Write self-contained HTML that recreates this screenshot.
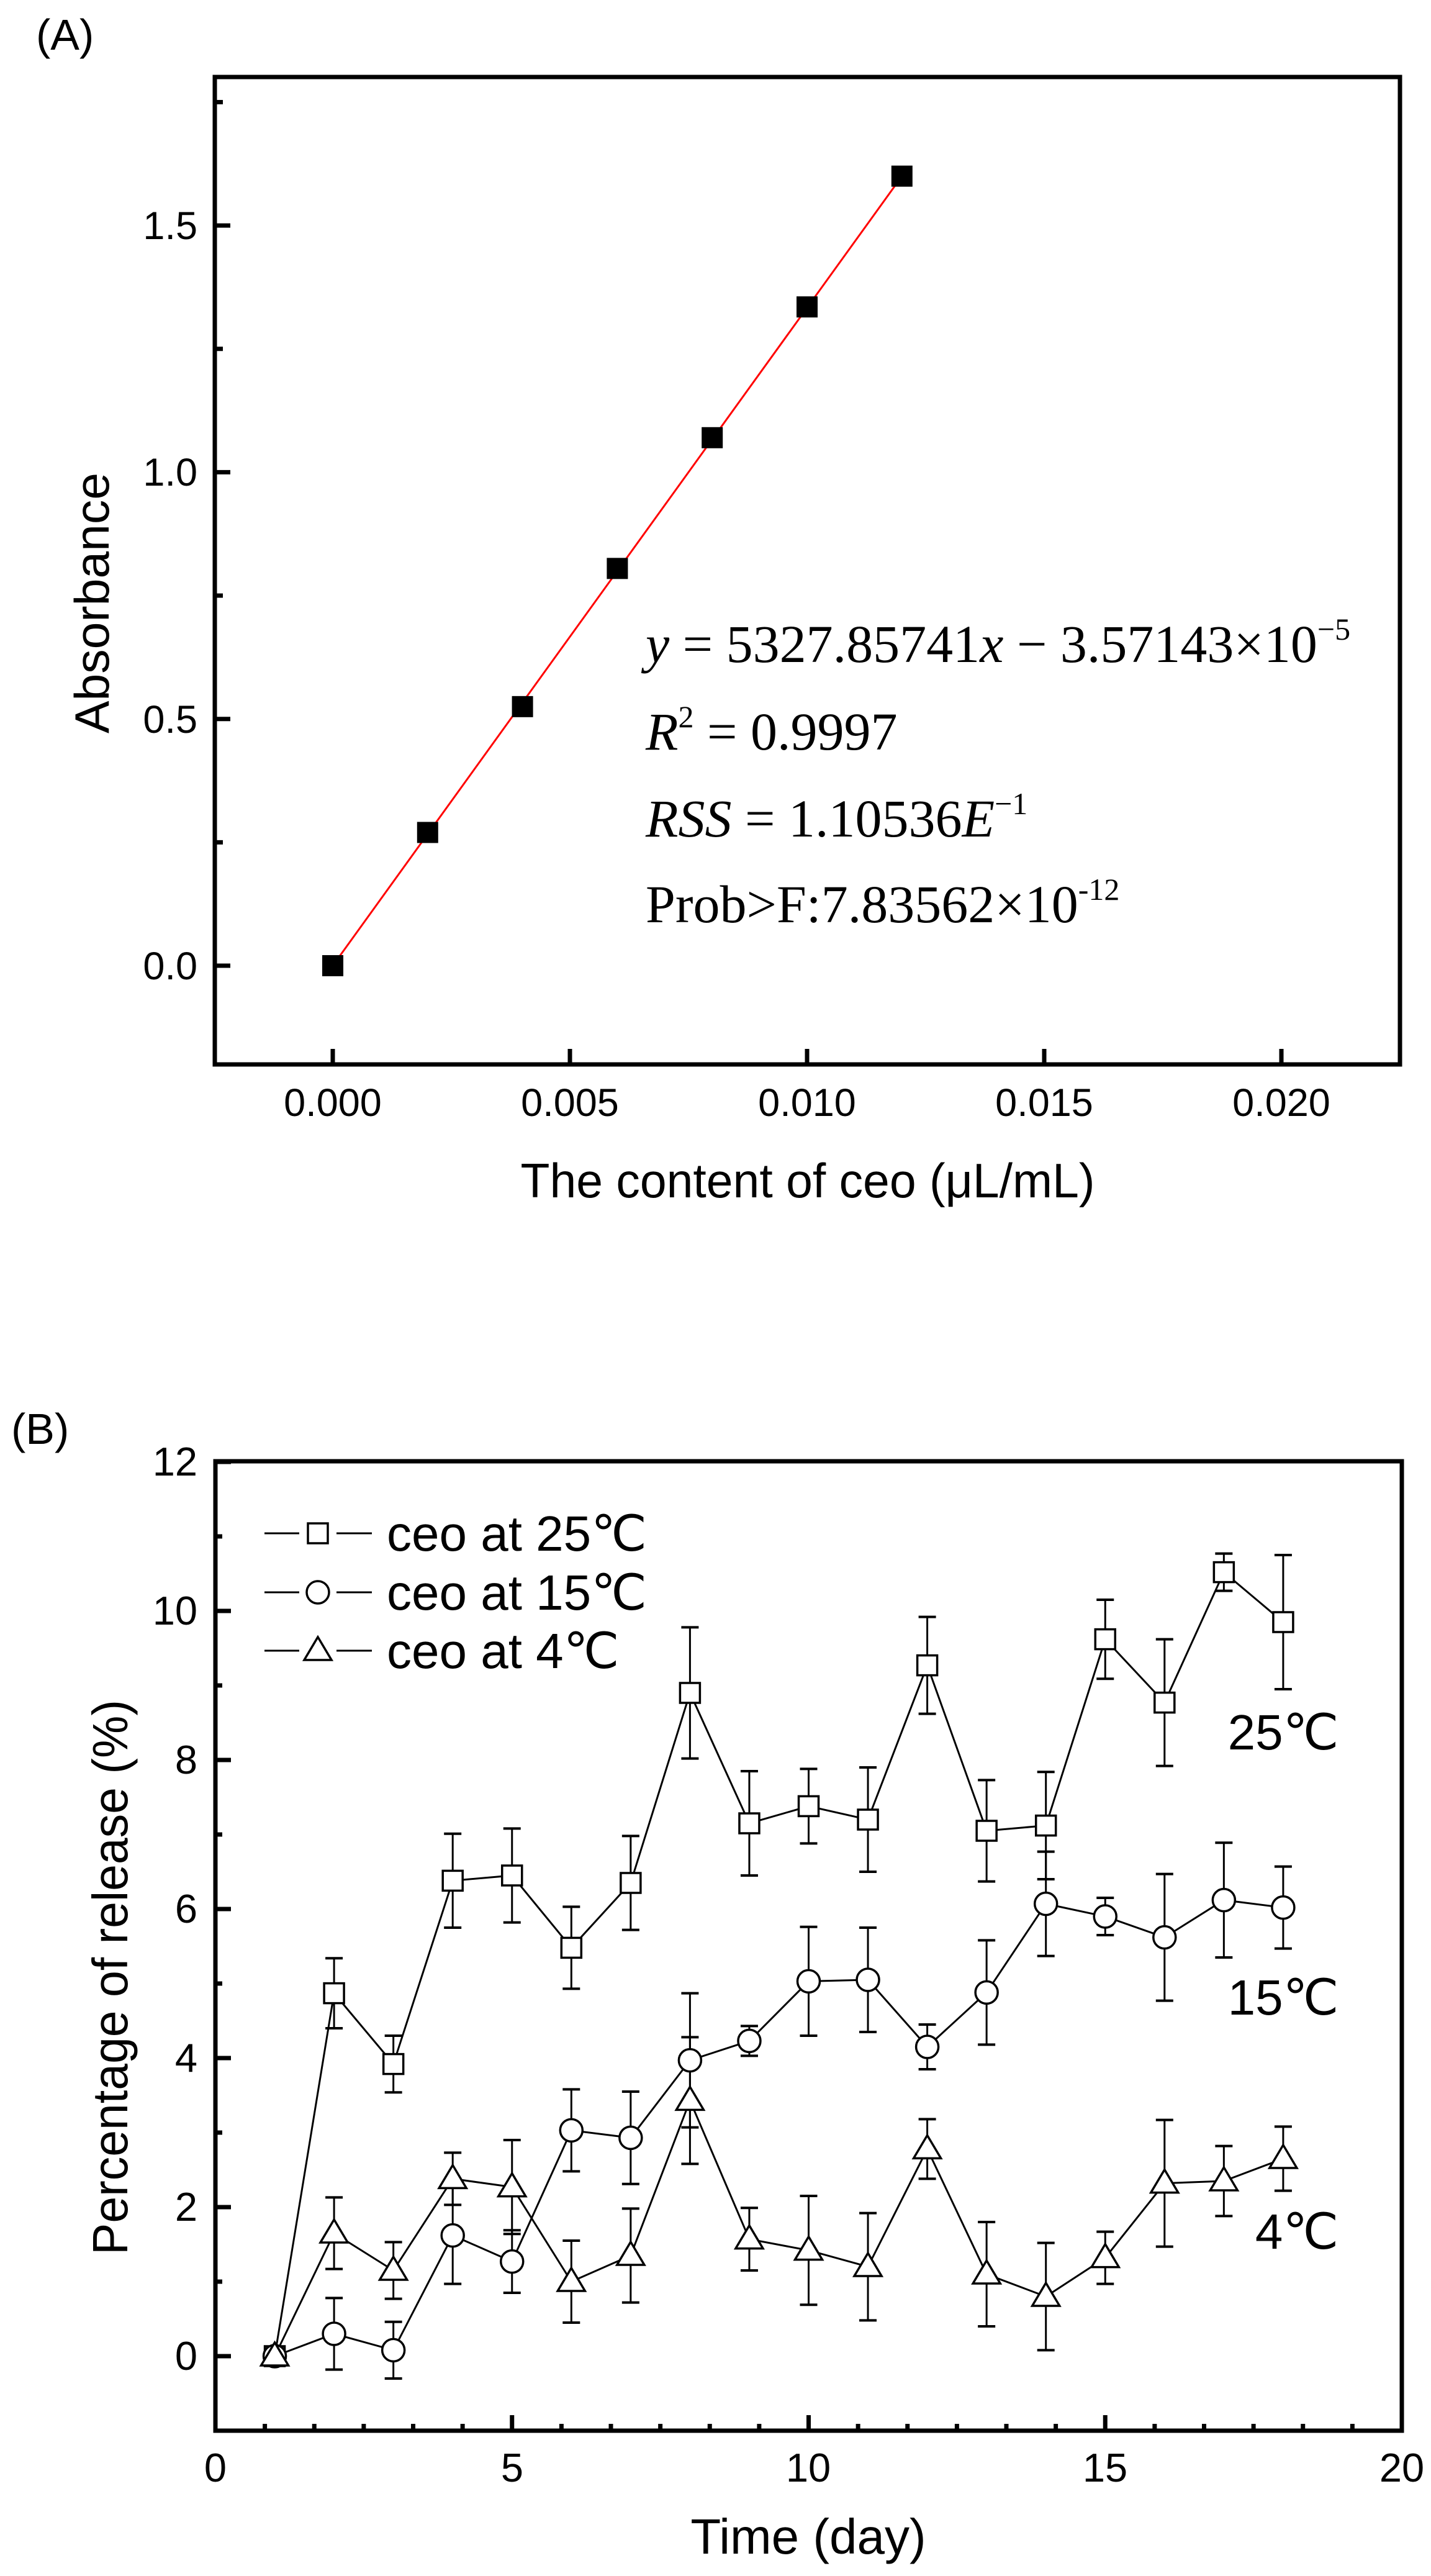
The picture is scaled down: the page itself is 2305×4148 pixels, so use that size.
<!DOCTYPE html>
<html><head><meta charset="utf-8"><style>html,body{margin:0;padding:0;background:#fff}svg{display:block}</style></head>
<body>
<svg id="s" xmlns="http://www.w3.org/2000/svg" width="2305" height="4148" viewBox="0 0 2305 4148" font-family="Liberation Sans, Arial, sans-serif">
<rect width="2305" height="4148" fill="#fff"/>
<g id="g"></g>
<text x="58" y="80" font-size="70">(A)</text>
<g font-size="63" text-anchor="end">
<text x="318" y="385">1.5</text>
<text x="318" y="782">1.0</text>
<text x="318" y="1180">0.5</text>
<text x="318" y="1577">0.0</text>
</g>
<g font-size="63" text-anchor="middle">
<text x="536" y="1797">0.000</text>
<text x="918" y="1797">0.005</text>
<text x="1300" y="1797">0.010</text>
<text x="1682" y="1797">0.015</text>
<text x="2064" y="1797">0.020</text>
</g>
<text x="1301" y="1928" font-size="78" text-anchor="middle" textLength="925" lengthAdjust="spacingAndGlyphs">The content of ceo (μL/mL)</text>
<text transform="translate(175,971) rotate(-90)" font-size="78" text-anchor="middle" textLength="420" lengthAdjust="spacingAndGlyphs">Absorbance</text>
<g font-family="Liberation Serif, Times New Roman, serif" font-size="86">
<text x="1040" y="1066"><tspan font-style="italic">y</tspan> = 5327.85741<tspan font-style="italic">x</tspan> − 3.57143×10<tspan font-size="50" dy="-36">−5</tspan></text>
<text x="1040" y="1207"><tspan font-style="italic">R</tspan><tspan font-size="50" dy="-36">2</tspan><tspan dy="36"> = 0.9997</tspan></text>
<text x="1040" y="1347"><tspan font-style="italic">RSS</tspan> = 1.10536<tspan font-style="italic">E</tspan><tspan font-size="50" dy="-36">−1</tspan></text>
<text x="1040" y="1485">Prob&gt;F:7.83562×10<tspan font-size="50" dy="-36">-12</tspan></text>
</g>
<text x="18" y="2325" font-size="70">(B)</text>
<g font-size="65" text-anchor="end">
<text x="318" y="2376">12</text>
<text x="318" y="2616">10</text>
<text x="318" y="2856">8</text>
<text x="318" y="3096">6</text>
<text x="318" y="3336">4</text>
<text x="318" y="3576">2</text>
<text x="318" y="3816">0</text>
</g>
<g font-size="65" text-anchor="middle">
<text x="347" y="3996">0</text>
<text x="825" y="3996">5</text>
<text x="1302" y="3996">10</text>
<text x="1780" y="3996">15</text>
<text x="2258" y="3996">20</text>
</g>
<text x="1302" y="4112" font-size="80" text-anchor="middle">Time (day)</text>
<text transform="translate(205,3184) rotate(-90)" font-size="80" text-anchor="middle" textLength="894" lengthAdjust="spacingAndGlyphs">Percentage of release (%)</text>
<g font-size="80">
<text x="623" y="2497">ceo at 25℃</text>
<text x="623" y="2592">ceo at 15℃</text>
<text x="623" y="2686">ceo at 4℃</text>
<text x="2067" y="2817" text-anchor="middle">25℃</text>
<text x="2067" y="3244" text-anchor="middle">15℃</text>
<text x="2089" y="3621" text-anchor="middle">4℃</text>
</g>
</svg>
<script>
(function(){
var NS="http://www.w3.org/2000/svg",g=document.getElementById('g');
function el(n,a){var e=document.createElementNS(NS,n);for(var k in a)e.setAttribute(k,a[k]);g.appendChild(e);return e;}
function line(x1,y1,x2,y2,w,c){el('line',{x1:x1,y1:y1,x2:x2,y2:y2,stroke:c||'#000','stroke-width':w});}
var AL=346,AR=2255,AT=124,AB=1714;
function ax(v){return 536+v*76400;} function ay(v){return 1555-v*794.6;}
el('rect',{x:AL,y:AT,width:AR-AL,height:AB-AT,fill:'none',stroke:'#000','stroke-width':7});
[0,0.5,1,1.5].forEach(function(v){line(AL,ay(v),AL+25,ay(v),7);});
[0.25,0.75,1.25,1.75].forEach(function(v){line(AL,ay(v),AL+13,ay(v),7);});
[0,0.005,0.01,0.015,0.02].forEach(function(v){line(ax(v),AB,ax(v),AB-25,7);});
var ys=[0,0.27,0.525,0.805,1.07,1.335,1.6];
line(ax(0),ay(0),ax(0.012),ay(1.6),3,'#f00');
for(var i=0;i<=6;i++){var x=0.002*i,y=ys[i];el('rect',{x:ax(x)-17,y:ay(y)-17,width:34,height:34,fill:'#000'});}
var BL=347,BR=2258,BT=2353,BB=3914;
function bx(v){return 347+v*95.55;} function by(v){return 3794-v*120;}
el('rect',{x:BL,y:BT,width:BR-BL,height:BB-BT,fill:'none',stroke:'#000','stroke-width':7});
for(var v=0;v<=12;v++){line(BL,by(v),BL+(v%2?11:25),by(v),7);}
for(var k=1;k<24;k++){var xv=k*5/6;if(k%6==0)line(bx(xv),BB,bx(xv),BB-25,7);else line(bx(xv),BB,bx(xv),BB-11,7);}
var S25=[[0,0],[4.87,.47],[3.92,.38],[6.38,.63],[6.45,.63],[5.48,.55],[6.35,.63],[8.9,.88],[7.15,.7],[7.38,.5],[7.2,.7],[9.27,.65],[7.05,.68],[7.12,.72],[9.62,.53],[8.77,.85],[10.52,.25],[9.85,.9]];
var S15=[[0,0],[.3,.48],[.08,.38],[1.62,.65],[1.27,.42],[3.03,.55],[2.93,.62],[3.97,.9],[4.23,.2],[5.03,.73],[5.05,.7],[4.15,.3],[4.88,.7],[6.07,.7],[5.9,.25],[5.62,.85],[6.12,.77],[6.02,.55]];
var S4=[[0,0],[1.65,.48],[1.15,.38],[2.38,.35],[2.27,.63],[1,.55],[1.35,.63],[3.43,.85],[1.57,.42],[1.42,.73],[1.2,.72],[2.78,.4],[1.1,.7],[.8,.72],[1.32,.35],[2.32,.85],[2.35,.47],[2.65,.43]];
function mk(t,x,y){
 var a={fill:'#fff',stroke:'#000','stroke-width':3.5};
 if(t==0){a.x=x-16;a.y=y-16;a.width=32;a.height=32;el('rect',a);}
 else if(t==1){a.cx=x;a.cy=y;a.r=18;el('circle',a);}
 else{a.points=(x)+','+(y-22)+' '+(x-22)+','+(y+15)+' '+(x+22)+','+(y+15);el('polygon',a);}
}
[S25,S15,S4].forEach(function(S,t){
 var pts=S.map(function(d,i){return bx(i+1)+','+by(d[0]);}).join(' ');
 el('polyline',{points:pts,fill:'none',stroke:'#000','stroke-width':3});
 S.forEach(function(d,i){if(d[1]>0){var x=bx(i+1),y1=by(d[0]+d[1]),y2=by(d[0]-d[1]);line(x,y1,x,y2,3);line(x-14,y1,x+14,y1,4);line(x-14,y2,x+14,y2,4);}});
});
[S25,S15,S4].forEach(function(S,t){S.forEach(function(d,i){mk(t,bx(i+1),by(d[0]));});});
[2469,2564,2658].forEach(function(y,t){line(426,y,482,y,3);line(542,y,599,y,3);mk(t,512,y);});
})();
</script>
</body></html>
